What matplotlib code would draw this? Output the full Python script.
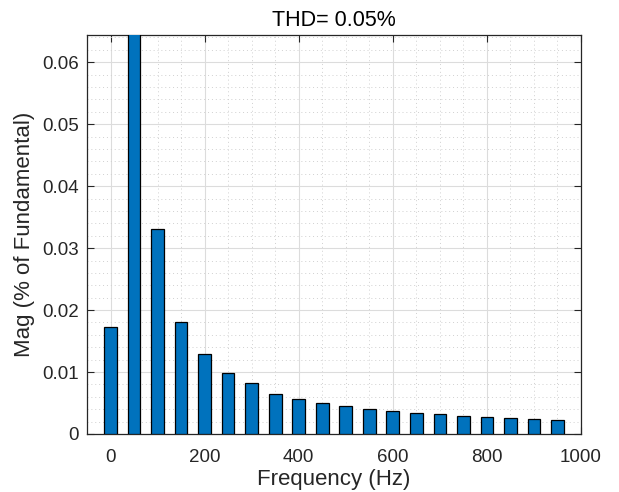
import matplotlib
matplotlib.use("Agg")
import matplotlib.pyplot as plt
import numpy as np
from matplotlib.ticker import MultipleLocator

freqs = [0, 50, 100, 150, 200, 250, 300, 350, 400, 450, 500, 550, 600, 650, 700, 750, 800, 850, 900, 950]
mags = [0.0172, 100.0, 0.0331, 0.0180, 0.0129, 0.0098, 0.0083, 0.0064, 0.0056, 0.0050,
        0.0045, 0.0041, 0.0037, 0.0034, 0.0032, 0.0029, 0.0027, 0.0026, 0.0024, 0.0023]
title = "THD= 0.05%"
xlabel = "Frequency (Hz)"
ylabel = "Mag (% of Fundamental)"

plt.rcParams['font.family'] = ['Liberation Sans', 'DejaVu Sans']
fig = plt.figure(figsize=(6.19, 4.92), dpi=100)
ax = fig.add_axes([87/619, 1-434/492, (581-87)/619, (434-35)/492])

ax.bar(freqs, mags, width=27, color='#0072BD', edgecolor='black', linewidth=0.9, zorder=3)
ax.set_xlim(-50, 1000)
ax.set_ylim(0, 0.0644)

ax.xaxis.set_major_locator(MultipleLocator(200))
ax.xaxis.set_minor_locator(MultipleLocator(50))
ax.yaxis.set_major_locator(MultipleLocator(0.01))
ax.yaxis.set_minor_locator(MultipleLocator(0.002))
ax.set_yticks(np.arange(0, 0.061, 0.01))
ax.set_yticklabels(['0', '0.01', '0.02', '0.03', '0.04', '0.05', '0.06'])

ax.grid(which='major', color='#dcdcdc', linewidth=0.8, linestyle='-', zorder=0)
ax.grid(which='minor', color='#d0d0d0', linewidth=0.7, linestyle=(0, (1, 3)), zorder=0)
ax.set_axisbelow(True)

ax.tick_params(which='major', direction='in', length=5, width=0.8, top=True, right=True,
               labelsize=13.5, colors='#262626')
ax.tick_params(axis='x', which='major', pad=11)
ax.tick_params(axis='y', which='major', pad=6)
ax.tick_params(which='minor', length=0, top=True, right=True)
for s in ax.spines.values():
    s.set_color('#262626')
    s.set_linewidth(0.9)

ax.set_title(title, fontsize=15.5, color='black', pad=6.5)
ax.set_xlabel(xlabel, fontsize=16, color='#262626', labelpad=2)
ax.set_ylabel(ylabel, fontsize=16, color='#262626', labelpad=5)

fig.savefig("out.png", dpi=100)
